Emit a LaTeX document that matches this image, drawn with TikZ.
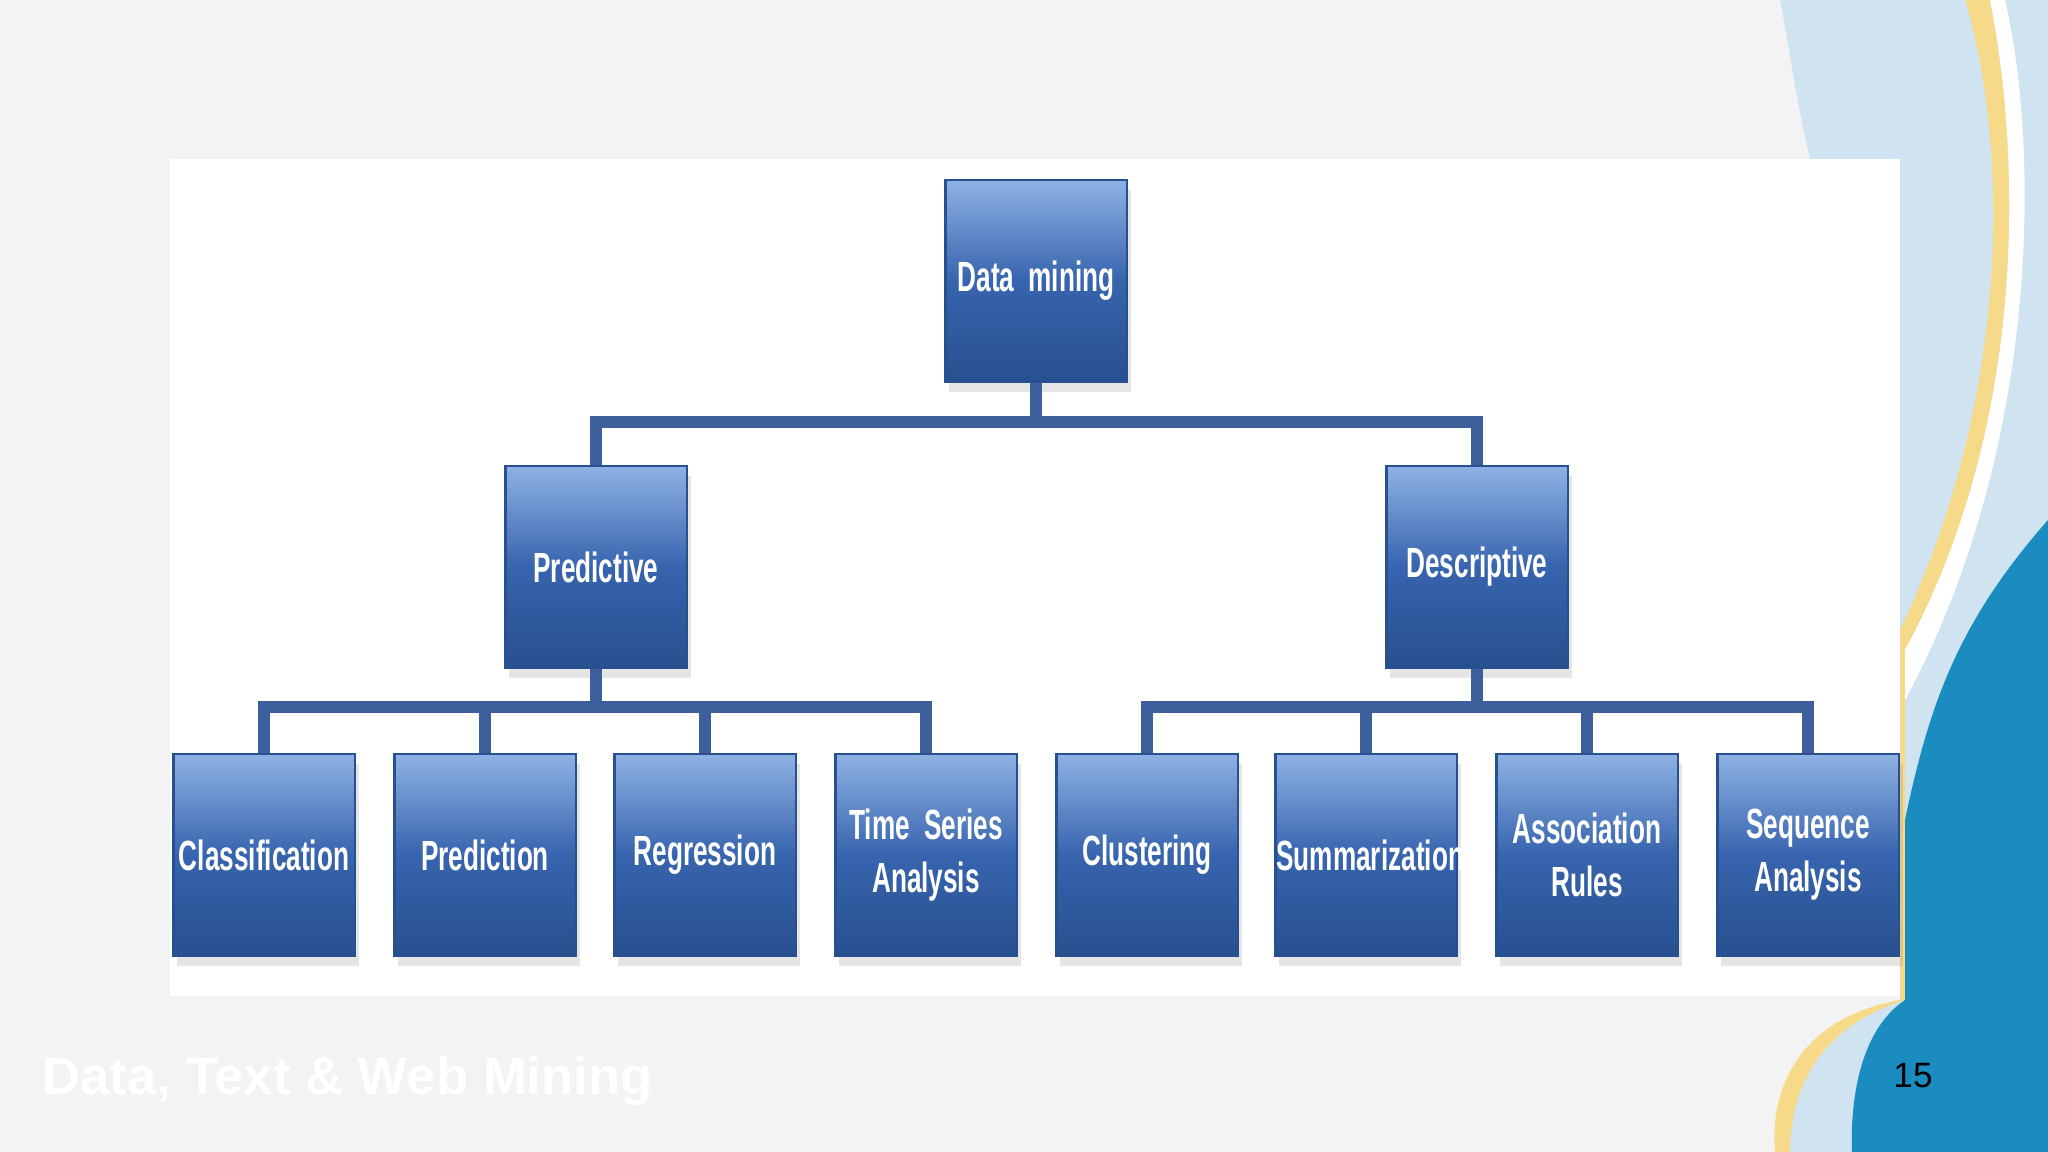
\documentclass[tikz,border=0pt]{standalone}
\usepackage{fontspec}
\setmainfont{Liberation Sans}
\newfontfamily\condfont[FakeStretch=0.62]{Liberation Sans}
\usetikzlibrary{shadows}
\definecolor{bg}{HTML}{F3F3F3}
\definecolor{boxtop}{HTML}{8FB2E4}
\definecolor{boxmid}{HTML}{3764AE}
\definecolor{boxbot}{HTML}{27508F}
\definecolor{conn}{HTML}{3D609C}
\definecolor{lblue}{HTML}{CFE3F0}
\definecolor{dblue}{HTML}{1A8CC0}
\definecolor{yel}{HTML}{F7D98A}
\tikzset{
 dmbox/.style={minimum width=1.81cm,text width=1.79cm,minimum height=2.02cm,inner sep=0pt,align=center,
   top color=boxtop,bottom color=boxbot,middle color=boxmid,draw=boxbot,line width=0.6pt,
   text=white,font=\condfont\fontsize{12}{15}\selectfont\bfseries,
   drop shadow={shadow xshift=0.4mm,shadow yshift=-1mm,opacity=0.2}},
 bar/.style={conn,line width=3.2pt}
}
\begin{document}
\begin{tikzpicture}[x=0.01cm,y=-0.01cm]
\useasboundingbox (0,0) rectangle (2048,1152);
\fill[bg] (0,0) rectangle (2048,1152);
% right decoration
\fill[lblue] (1780,0) .. controls (1800,100) and (1810,250) .. (1900,330) -- (1900,1000) .. controls (1800,1030) and (1780,1100) .. (1790,1152) -- (2048,1152) -- (2048,0) -- cycle;
\fill[yel] (1965,0) .. controls (2010,150) and (2010,400) .. (1900,630) -- (1900,1000) .. controls (1790,1020) and (1770,1100) .. (1775,1152) -- (1790,1152) .. controls (1790,1100) and (1810,1030) .. (1905,1000) -- (1905,650) .. controls (2030,420) and (2020,150) .. (1990,0) -- cycle;
\fill[white] (1990,0) .. controls (2020,150) and (2030,420) .. (1905,650) -- (1905,700) .. controls (2040,450) and (2040,150) .. (2005,0) -- cycle;
\fill[dblue] (2048,520) .. controls (1960,620) and (1930,700) .. (1905,820) -- (1905,1000) .. controls (1860,1030) and (1850,1100) .. (1852,1152) -- (2048,1152) -- cycle;
% panel
\fill[white] (170,159) rectangle (1900,996);
% connectors
\draw[bar] (1036,300) -- (1036,422) -| (596,500);
\draw[bar] (1036,422) -| (1477,500);
% nodes
\node[dmbox] (dm) at (1036,281) {Data mining};
\node[dmbox] (pred) at (596,567) {Predictive};
\node[dmbox] (desc) at (1477,567) {Descriptive};
\foreach \n/\x/\t in {c1/264/Classification,c2/485/Prediction,c3/705/Regression,c4/926/{Time Series\\Analysis},c5/1147/Clustering,c6/1366/Summarization,c7/1587/{Association\\Rules},c8/1808/{Sequence\\Analysis}}
  \node[dmbox] (\n) at (\x,855) {\t};
\draw[bar] (dm.south) -- (1036,422);
\foreach \n in {c1,c2,c3,c4} \draw[bar] (pred.south) -- (596,707) -| (\n.north);
\foreach \n in {c5,c6,c7,c8} \draw[bar] (desc.south) -- (1477,707) -| (\n.north);
% footer
\node[anchor=west,text=white,font=\fontsize{15}{18}\selectfont\bfseries] (ft) at (30,1081) {Data, Text \& Web Mining};
\node[font=\fontsize{10}{12}\selectfont] (pg) at (1913,1076) {15};
\end{tikzpicture}
\end{document}
